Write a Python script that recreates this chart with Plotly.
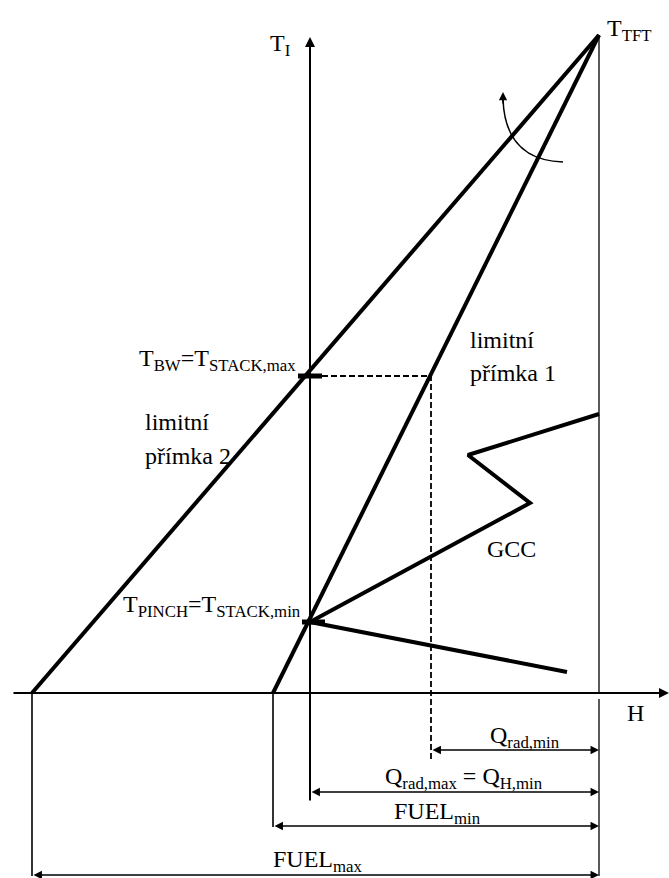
import plotly.graph_objects as go

# ---- diagram values (H = enthalpy, T = temperature, drawing units) ----
H_TFT, T_TFT = 289, 658          # top point T_TFT
H_LIM1_BASE = -37                # limitní přímka 1 at T = 0
H_LIM2_BASE = -278               # limitní přímka 2 at T = 0
T_BW = 317                       # T_BW = T_STACK,max
H_BW_LIM1 = 121                  # T_BW level on limitní přímka 1
T_PINCH = 71                     # T_PINCH = T_STACK,min

T_AXIS_TOP, T_AXIS_BOTTOM = 656, -109
H_AXIS_LEFT, H_AXIS_RIGHT = -298, 359

gcc_H = [289, 158, 220, 0, 257]
gcc_T = [279, 238, 190, 71, 21]

bw_mark_H = [-12, 12]
pinch_mark_H = [-8, 15]

# dimension arrows
dim_labels = ["Q<sub>rad,min</sub>",
              "Q<sub>rad,max</sub> = Q<sub>H,min</sub>",
              "FUEL<sub>min</sub>",
              "FUEL<sub>max</sub>"]
dim_start_H = [H_BW_LIM1, 0, H_LIM1_BASE, H_LIM2_BASE]
dim_level_T = [-57, -99, -133, -182]
dim_label_H = [215, 154, 127, 8]
dim_label_T = [-44, -85, -120, -168]

# rotation hint near the top point
rot_start = (253, 531)
rot_ctrl = (195, 533)
rot_end = (193, 594)
rot_tip = (193, 601)

FONT = "Times New Roman, Liberation Serif, DejaVu Serif, serif"
FS = 24
BLACK = "black"

fig = go.Figure()


def seg(xs, ys, width, dash=None):
    fig.add_trace(go.Scatter(
        x=xs, y=ys, mode="lines", hoverinfo="skip",
        line=dict(color=BLACK, width=width, dash=dash),
    ))


# limit lines
seg([H_TFT, H_LIM2_BASE], [T_TFT, 0], 4)
seg([H_TFT, H_LIM1_BASE], [T_TFT, 0], 4)

# vertical line under T_TFT
seg([H_TFT, H_TFT], [T_TFT, -1], 1.3)
seg([H_TFT, H_TFT], [-6, dim_level_T[3] - 1], 1.3)

# extension lines for dimension arrows
seg([H_LIM2_BASE, H_LIM2_BASE], [0, dim_level_T[3] - 1], 1.6)
seg([H_LIM1_BASE, H_LIM1_BASE], [0, dim_level_T[2] - 1], 1.6)

# T_BW dashed guide
seg([bw_mark_H[1], H_BW_LIM1, H_BW_LIM1], [T_BW, T_BW, dim_level_T[0] - 9], 1.8, dash="6px,3px")

# grand composite curve
seg(gcc_H, gcc_T, 4)

# stack temperature marks
seg(bw_mark_H, [T_BW, T_BW], 5)
seg(pinch_mark_H, [T_PINCH, T_PINCH], 5)

# rotation arc
fig.add_shape(type="path",
              path=f"M {rot_start[0]},{rot_start[1]} Q {rot_ctrl[0]},{rot_ctrl[1]} {rot_end[0]},{rot_end[1]}",
              line=dict(color=BLACK, width=1.5), xref="x", yref="y")

annotations = []


def arrow(x, y, ax, ay, width, size, both=False):
    annotations.append(dict(
        x=x, y=y, ax=ax, ay=ay, xref="x", yref="y", axref="x", ayref="y",
        showarrow=True, arrowhead=2, arrowsize=size, arrowwidth=width,
        arrowcolor=BLACK, standoff=0, startstandoff=0, text="",
        arrowside="end+start" if both else "end",
        startarrowhead=2, startarrowsize=size,
    ))


# axes
arrow(0, T_AXIS_TOP, 0, T_AXIS_BOTTOM, 2, 1)
arrow(H_AXIS_RIGHT, 0, H_AXIS_LEFT, 0, 2, 1)
# rotation arrow head
arrow(rot_tip[0], rot_tip[1], rot_end[0], rot_end[1] - 6, 1.5, 1.1)

# dimension arrows
for h0, lvl in zip(dim_start_H, dim_level_T):
    arrow(H_TFT, lvl, h0, lvl, 1.3, 1.3, both=True)


def label(text, x, y, xanchor="center", yanchor="middle", size=FS):
    annotations.append(dict(
        x=x, y=y, xref="x", yref="y", text=text, showarrow=False,
        xanchor=xanchor, yanchor=yanchor, align="left",
        font=dict(family=FONT, size=size, color=BLACK),
    ))


label("T<sub>I</sub>", -18, 648, xanchor="right")
label("T<sub>TFT</sub>", 295, 663, xanchor="left")
label("H", 325, -20)
label("T<sub>BW</sub>=T<sub>STACK,max</sub>", -12, 333, xanchor="right")
label("T<sub>PINCH</sub>=T<sub>STACK,min</sub>", -7, 87, xanchor="right")
label("limitní", 158, 353, xanchor="left")
label("přímka 1", 158, 320, xanchor="left")
label("limitní", -167, 271, xanchor="left")
label("přímka 2", -167, 237, xanchor="left")
label("GCC", 201, 144)

for txt, lx, ly in zip(dim_labels, dim_label_H, dim_label_T):
    label(txt, lx, ly)

fig.update_layout(
    width=669, height=878, autosize=False,
    margin=dict(l=0, r=0, t=0, b=0),
    paper_bgcolor="white", plot_bgcolor="white",
    showlegend=False,
    font=dict(family=FONT, size=FS, color=BLACK),
    xaxis=dict(range=[-310, 359], visible=False, fixedrange=True),
    yaxis=dict(range=[-185, 693], visible=False, fixedrange=True),
    annotations=annotations,
)

fig.write_html("out.html")
